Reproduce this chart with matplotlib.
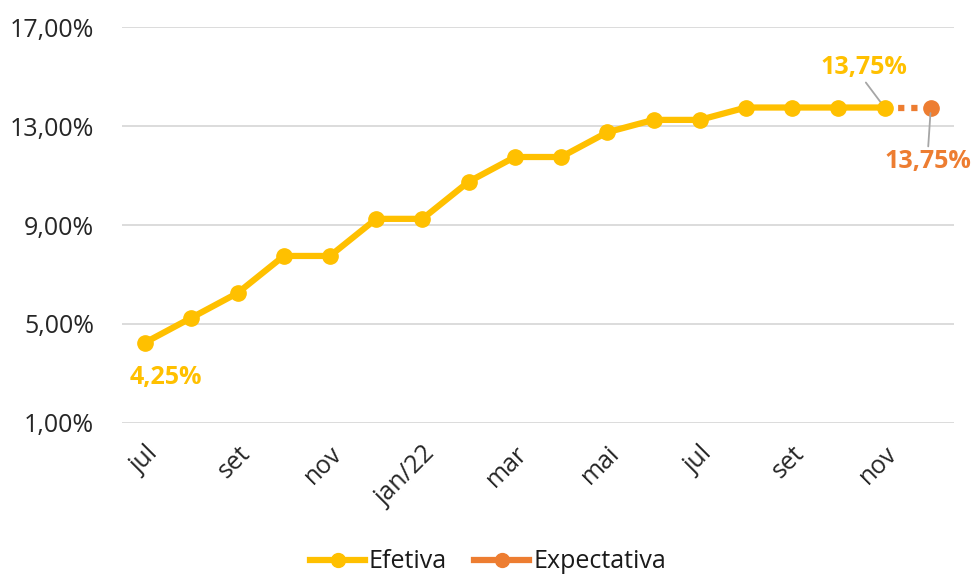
import matplotlib
matplotlib.use("Agg")
import matplotlib.pyplot as plt
import numpy as np
from matplotlib.lines import Line2D

categories = ["jul", "ago", "set", "out", "nov", "dez", "jan/22", "fev", "mar", "abr",
              "mai", "jun", "jul", "ago", "set", "out", "nov", "dez"]
efetiva = [4.25, 5.25, 6.25, 7.75, 7.75, 9.25, 9.25, 10.75, 11.75, 11.75,
           12.75, 13.25, 13.25, 13.75, 13.75, 13.75, 13.75, None]
expectativa_idx = [16, 17]
expectativa = [13.75, 13.75]
yticks = [1, 5, 9, 13, 17]

YEL = "#FFC000"
ORA = "#ED7D31"

plt.rcParams['font.family'] = ['Open Sans', 'DejaVu Sans']

fig = plt.figure(figsize=(9.73, 5.77), dpi=100)
ax = fig.add_axes([0.1254, 0.267, 0.855, 0.686])

x = np.arange(len(categories))
ef_x = [i for i, v in enumerate(efetiva) if v is not None]
ef_y = [v for v in efetiva if v is not None]

ax.plot(expectativa_idx, expectativa, color=ORA, lw=4.5, ls=(0, (1, 1.1)), zorder=2)
ax.plot([expectativa_idx[-1]], [expectativa[-1]], 'o', color=ORA, ms=11, zorder=3)
ax.plot(ef_x, ef_y, color=YEL, lw=4.5, marker='o', ms=11, zorder=4)

h1 = Line2D([], [], color=YEL, lw=4.5, marker='o', ms=10)
h2 = Line2D([], [], color=ORA, lw=4.5, marker='o', ms=10)
fig.legend([h1, h2], ["Efetiva", "Expectativa"], loc='center',
           bbox_to_anchor=(0.5015, 0.026), ncol=2, frameon=False, fontsize=18,
           handlelength=2.2, columnspacing=1.1, handletextpad=0.15, labelcolor='#1a1a1a')

ax.set_xlim(-0.5, len(categories) - 0.5)
ax.set_ylim(1, 17)
ax.set_yticks(yticks)
ax.set_yticklabels([f"{v:.2f}%".replace('.', ',') for v in yticks], fontsize=18, color="#262626")
ax.set_xticks(x[::2])
ax.set_xticklabels(categories[::2], rotation=45, ha='right', rotation_mode='anchor',
                   fontsize=18, color="#262626")
ax.tick_params(axis='y', length=0, pad=20)
ax.tick_params(axis='x', length=0, pad=13)
ax.grid(axis='y', color='#D9D9D9', lw=1.3)
ax.set_axisbelow(True)
for s in ax.spines.values():
    s.set_visible(False)

def lab(v):
    return f"{v:.2f}%".replace('.', ',')

ax.annotate(lab(efetiva[0]), (0, efetiva[0]), xytext=(15, -25), textcoords='offset points',
            ha='center', va='center', color=YEL, fontsize=18, fontweight='bold')
ax.annotate(lab(efetiva[16]), (16, efetiva[16]), xytext=(-15, 29), textcoords='offset points',
            ha='center', va='center', color=YEL, fontsize=18, fontweight='bold',
            arrowprops=dict(arrowstyle='-', color='#A6A6A6', lw=1.3, shrinkA=0, shrinkB=0,
                            relpos=(0.5, 0)))
ax.annotate(lab(expectativa[-1]), (17, expectativa[-1]), xytext=(-2, -39), textcoords='offset points',
            ha='center', va='center', color=ORA, fontsize=18, fontweight='bold',
            arrowprops=dict(arrowstyle='-', color='#A6A6A6', lw=1.3, shrinkA=0, shrinkB=4,
                            relpos=(0.5, 1)))

fig.savefig("out.png", dpi=100)
